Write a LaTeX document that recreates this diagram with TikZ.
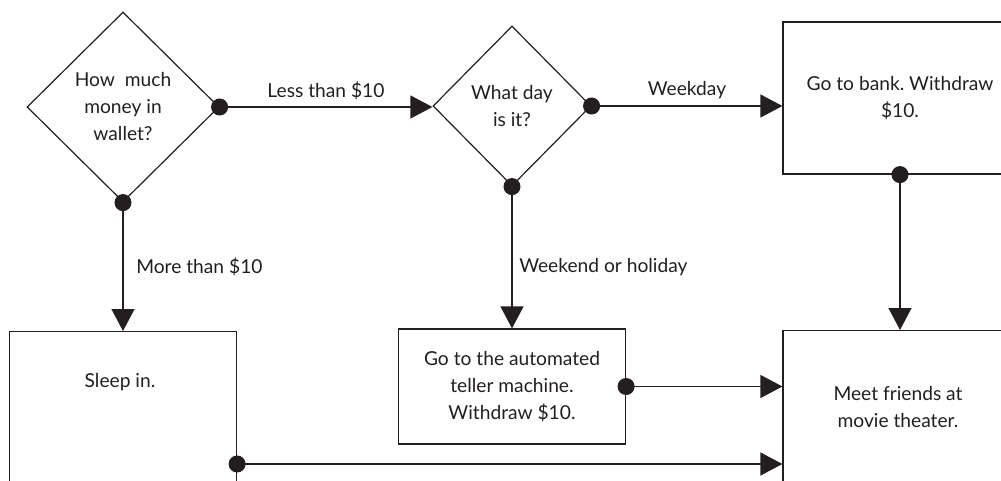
\documentclass[tikz,border=0pt]{standalone}
\usepackage{fontspec}
\setmainfont{Lato}
\usetikzlibrary{arrows.meta,positioning,shapes.geometric}
\definecolor{flowink}{RGB}{35,31,32}
\frenchspacing

\begin{document}
\begin{tikzpicture}[
  x=0.5pt,y=-0.5pt,
  every node/.style={text=flowink,font=\fontsize{9.6}{13.5}\selectfont},
  decision/.style={diamond,draw=flowink,line width=0.6pt,inner sep=0pt,align=center},
  action/.style={rectangle,draw=flowink,line width=0.6pt,inner sep=0pt,align=center},
  note/.style={align=center},
  flow/.style={{Circle[length=8.5pt]}-{Triangle[length=11pt,width=11.5pt]},
    line width=0.6pt,draw=flowink,shorten <=-4.25pt}
]
\path[use as bounding box] (0,0) rectangle (1001,481);
\clip (0,0) rectangle (1001,481);

\node[decision,minimum width=96pt,minimum height=95pt] (money) at (123,107) {How\ \ much\\money in\\wallet?};
\node[decision,minimum width=79pt,minimum height=80pt] (day) at (512,106) {What day\\is it?};
\node[action,minimum width=117pt,minimum height=76pt] (bank) at (900,98) {Go to bank. Withdraw\\\$10.};
\node[action,minimum width=113.5pt,minimum height=57.5pt] (atm) at (512,386.5) {Go to the automated\\teller machine.\\Withdraw \$10.};
\node[action,minimum width=113.5pt,minimum height=100pt,anchor=north] (sleep) at (123,331) {};
\node[note] (sleeptext) at (120,382) {Sleep in.};
\node[action,minimum width=117pt,minimum height=100pt,anchor=north] (meet) at (900,330) {};
\node[note] (meettext) at (898,407) {Meet friends at\\movie theater.};
\coordinate (low) at (0,464);

\draw[flow] (money.east) -- node[above] {Less than \$10} (money.east -| day.west);
\draw[flow] (day.east) -- node[above] {Weekday} (day.east -| bank.west);
\draw[flow] (money.south) -- node[right,xshift=3pt] {More than \$10} (sleep.north);
\draw[flow] (day.south) -- node[right,pos=0.57] {Weekend or holiday} (atm.north);
\draw[flow] (bank.south) -- (meet.north);
\draw[flow] (atm.east) -- (atm.east -| meet.west);
\draw[flow] (sleep.east |- low) -- (meet.west |- low);
\end{tikzpicture}
\end{document}
